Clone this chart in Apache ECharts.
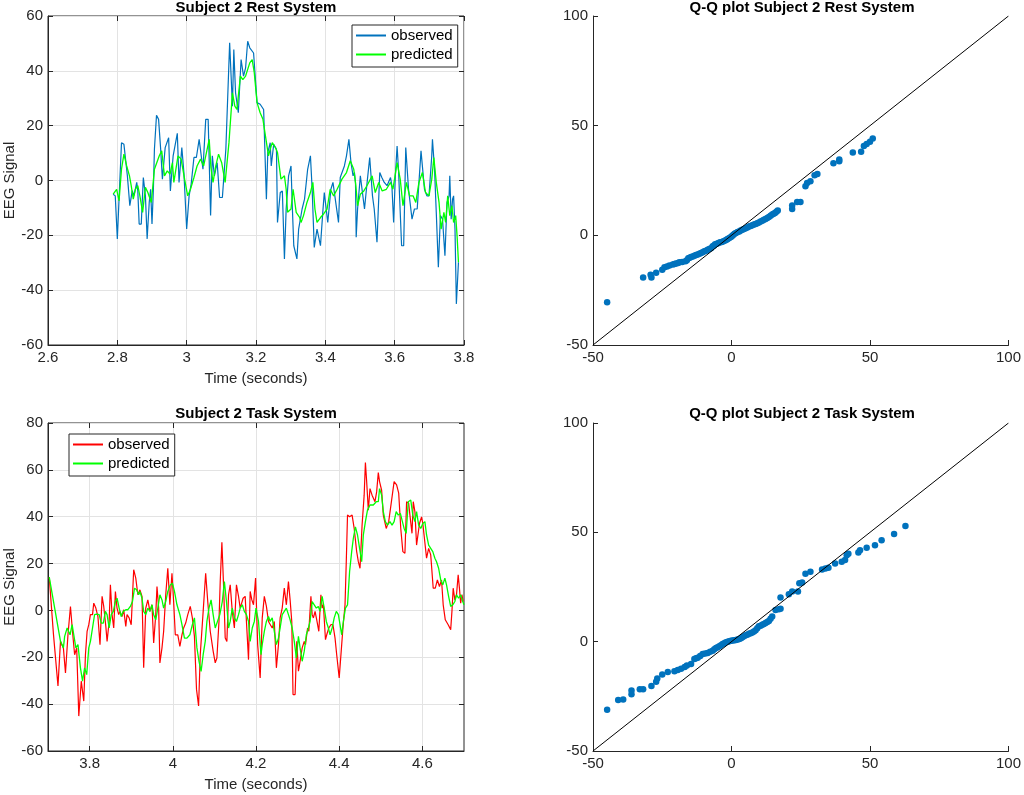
<!DOCTYPE html>
<html>
<head>
<meta charset="utf-8">
<title>Subject 2 EEG</title>
<script src="https://cdn.jsdelivr.net/npm/echarts@6.0.0/dist/echarts.min.js"></script>
<style>
html, body { margin: 0; padding: 0; background: #fff; }
#chart { width: 1024px; height: 795px; }
</style>
</head>
<body>
<div id="chart"></div>
<script>
// DATA (time in seconds, EEG signal)

var restObserved = [[2.788,-5.0],[2.794,-5.6],[2.800,-21.3],[2.812,13.8],[2.819,13.2],[2.829,1.7],[2.836,-9.2],[2.843,-3.7],[2.848,-5.5],[2.856,-0.7],[2.859,-3.7],[2.863,-15.9],[2.869,-15.9],[2.875,1.1],[2.881,-5.6],[2.886,-21.3],[2.892,-8.0],[2.896,-3.2],[2.900,-15.9],[2.904,-3.2],[2.907,11.4],[2.913,23.8],[2.919,22.3],[2.925,11.4],[2.930,0.5],[2.938,12.0],[2.942,11.4],[2.948,15.6],[2.953,-3.8],[2.961,9.0],[2.973,17.2],[2.978,-0.7],[2.986,12.0],[2.992,2.9],[3.000,-17.7],[3.007,-5.6],[3.013,-1.3],[3.021,8.4],[3.028,8.4],[3.036,15.0],[3.047,4.1],[3.055,22.3],[3.062,22.3],[3.069,-12.8],[3.074,9.0],[3.080,1.7],[3.088,6.5],[3.095,-6.2],[3.103,-6.2],[3.113,11.4],[3.124,50.2],[3.132,27.1],[3.136,47.8],[3.141,32.0],[3.149,24.7],[3.157,44.1],[3.164,38.1],[3.170,41.1],[3.176,50.8],[3.182,48.4],[3.187,47.8],[3.193,46.5],[3.203,28.4],[3.212,27.8],[3.216,27.1],[3.222,25.9],[3.230,-6.8],[3.234,10.2],[3.241,13.8],[3.244,5.3],[3.251,13.2],[3.259,11.4],[3.262,-15.3],[3.270,-4.4],[3.276,-3.8],[3.282,-28.6],[3.287,-10.4],[3.294,1.7],[3.301,5.3],[3.305,-10.4],[3.309,-23.8],[3.312,-23.8],[3.318,-28.6],[3.323,-17.7],[3.333,-10.4],[3.340,-6.8],[3.349,4.1],[3.357,9.0],[3.362,-3.2],[3.368,-24.4],[3.376,-17.7],[3.386,-23.8],[3.393,-11.0],[3.397,-4.4],[3.407,-15.3],[3.416,-3.2],[3.422,-0.7],[3.438,-15.3],[3.443,1.1],[3.448,1.1],[3.455,5.3],[3.461,9.0],[3.468,15.0],[3.474,6.5],[3.480,1.7],[3.484,2.9],[3.487,-0.7],[3.489,-20.7],[3.493,-10.4],[3.501,1.7],[3.513,-10.4],[3.520,-1.3],[3.528,8.4],[3.536,-5.6],[3.541,-10.4],[3.549,-22.5],[3.557,2.9],[3.563,1.1],[3.570,-0.7],[3.578,-1.9],[3.588,1.1],[3.592,-1.9],[3.597,-15.3],[3.602,1.7],[3.607,12.6],[3.611,4.1],[3.620,-23.8],[3.626,-23.8],[3.632,12.0],[3.640,-3.2],[3.650,-14.1],[3.657,-10.4],[3.665,-10.4],[3.676,10.8],[3.686,-3.2],[3.693,-5.6],[3.699,-5.6],[3.707,9.0],[3.709,15.0],[3.715,4.1],[3.720,-11.6],[3.726,-31.6],[3.732,-12.8],[3.738,-14.1],[3.745,-27.4],[3.751,-8.0],[3.757,-5.6],[3.759,1.7],[3.763,-14.1],[3.767,-6.8],[3.770,-5.6],[3.774,-17.7],[3.778,-45.0],[3.784,-29.8]];

var restPredicted = [[2.788,-5.0],[2.798,-3.2],[2.805,-7.4],[2.812,4.1],[2.819,9.6],[2.827,5.3],[2.835,1.7],[2.840,-1.9],[2.846,-6.8],[2.852,-3.2],[2.859,-1.9],[2.865,-5.6],[2.873,-11.6],[2.881,-2.5],[2.888,-4.4],[2.898,-8.0],[2.907,4.1],[2.921,9.0],[2.928,10.8],[2.936,1.7],[2.944,3.5],[2.952,2.3],[2.959,6.5],[2.963,-0.7],[2.975,9.0],[2.984,7.8],[2.994,0.5],[3.003,-5.6],[3.011,-3.2],[3.021,1.1],[3.030,5.3],[3.040,7.8],[3.049,5.3],[3.065,15.0],[3.070,4.7],[3.076,-0.7],[3.084,5.3],[3.092,9.6],[3.101,6.5],[3.111,-0.7],[3.122,13.8],[3.132,32.0],[3.139,27.1],[3.145,25.9],[3.155,38.1],[3.162,36.8],[3.170,38.1],[3.182,42.9],[3.189,44.1],[3.195,39.3],[3.203,28.4],[3.212,24.7],[3.220,22.3],[3.230,14.0],[3.236,9.0],[3.241,11.4],[3.247,13.8],[3.256,12.0],[3.262,10.2],[3.272,0.5],[3.282,1.7],[3.287,-3.2],[3.291,-11.6],[3.301,-10.4],[3.307,-3.2],[3.316,-11.6],[3.326,-13.5],[3.330,-15.3],[3.337,-12.8],[3.347,-8.0],[3.357,-4.4],[3.364,-0.7],[3.370,-10.4],[3.376,-15.3],[3.386,-13.5],[3.395,-12.2],[3.405,-10.4],[3.414,-3.2],[3.424,-5.6],[3.434,-3.2],[3.448,0.5],[3.461,2.9],[3.472,7.2],[3.482,4.1],[3.488,-1.9],[3.493,-9.2],[3.501,-5.0],[3.511,-3.8],[3.520,-1.9],[3.535,1.7],[3.544,-4.4],[3.554,-0.7],[3.564,-3.8],[3.576,-3.2],[3.588,-0.7],[3.595,-3.2],[3.607,6.5],[3.616,0.5],[3.624,-9.2],[3.634,-0.7],[3.643,-5.6],[3.653,-5.6],[3.661,-8.0],[3.670,-0.7],[3.680,2.9],[3.689,-4.4],[3.699,-5.6],[3.707,0.5],[3.713,8.4],[3.720,-0.7],[3.728,-8.0],[3.734,-17.7],[3.742,-11.6],[3.747,-15.3],[3.753,-5.6],[3.759,-12.8],[3.765,-9.2],[3.770,-15.3],[3.776,-12.8],[3.780,-20.1],[3.784,-29.8]];

var taskObserved = [[3.703,14.2],[3.713,-9.9],[3.724,-32.2],[3.730,-13.2],[3.737,-16.0],[3.742,-26.7],[3.748,-10.4],[3.754,1.7],[3.759,-9.2],[3.764,-18.9],[3.769,-16.0],[3.774,-45.1],[3.780,-30.2],[3.786,-38.7],[3.790,-18.9],[3.794,-8.9],[3.798,-6.1],[3.802,-1.8],[3.807,-1.8],[3.810,3.1],[3.815,1.0],[3.820,-2.6],[3.825,-14.6],[3.830,6.0],[3.834,1.7],[3.839,-6.8],[3.842,-13.2],[3.847,-4.7],[3.850,10.9],[3.854,-1.8],[3.858,-7.5],[3.862,8.1],[3.866,1.0],[3.870,-1.8],[3.873,-0.4],[3.878,-2.6],[3.882,0.3],[3.887,-6.8],[3.890,-1.8],[3.895,-3.2],[3.900,-6.1],[3.906,17.4],[3.911,13.8],[3.916,6.7],[3.921,8.8],[3.926,6.0],[3.930,-24.5],[3.935,1.0],[3.940,4.5],[3.945,-0.4],[3.950,2.4],[3.954,-13.9],[3.959,-1.8],[3.962,10.2],[3.966,1.0],[3.969,-22.4],[3.974,-16.0],[3.978,-8.9],[3.983,6.7],[3.988,18.0],[3.993,2.4],[3.998,15.9],[4.002,3.8],[4.006,-10.4],[4.012,-10.4],[4.017,-15.3],[4.022,-10.4],[4.026,-7.5],[4.031,-5.4],[4.036,-1.8],[4.042,1.7],[4.047,-3.2],[4.052,-11.1],[4.057,-33.7],[4.062,-40.8],[4.066,-18.9],[4.073,-0.4],[4.079,15.9],[4.084,3.8],[4.090,-8.9],[4.097,-17.4],[4.102,-22.4],[4.106,-20.3],[4.111,-4.7],[4.114,12.3],[4.118,29.1],[4.122,10.9],[4.126,-11.8],[4.130,-13.2],[4.134,6.7],[4.138,10.9],[4.143,-0.4],[4.148,-7.5],[4.153,10.9],[4.158,6.0],[4.162,1.0],[4.169,5.2],[4.174,6.0],[4.177,-4.7],[4.182,-21.0],[4.186,8.1],[4.190,4.5],[4.194,2.4],[4.199,13.8],[4.204,-14.6],[4.210,-28.8],[4.215,-3.2],[4.220,6.0],[4.225,1.7],[4.230,-4.7],[4.234,-4.0],[4.239,-7.5],[4.244,-4.7],[4.249,-24.5],[4.254,-14.6],[4.258,-3.2],[4.263,1.0],[4.268,9.5],[4.273,2.4],[4.278,12.3],[4.282,4.5],[4.286,-4.7],[4.289,-35.9],[4.294,-35.9],[4.298,-13.2],[4.302,-25.9],[4.306,-21.7],[4.311,-16.0],[4.316,-13.2],[4.319,-14.6],[4.324,-7.5],[4.327,-8.9],[4.332,6.0],[4.335,-1.8],[4.338,-3.2],[4.342,-0.4],[4.346,-4.0],[4.351,-8.9],[4.356,6.7],[4.359,1.0],[4.362,2.4],[4.367,-12.5],[4.370,-10.4],[4.375,-7.5],[4.380,-6.1],[4.385,-6.1],[4.390,-11.8],[4.394,-18.9],[4.400,-28.8],[4.406,-14.6],[4.409,-7.5],[4.414,2.4],[4.417,20.8],[4.420,40.7],[4.425,40.0],[4.431,40.7],[4.436,35.0],[4.442,25.1],[4.446,20.8],[4.450,18.0],[4.455,36.4],[4.460,49.2],[4.463,63.1],[4.466,55.0],[4.470,42.8],[4.474,52.0],[4.479,49.2],[4.486,46.4],[4.490,50.6],[4.494,58.8],[4.497,55.0],[4.502,51.3],[4.506,40.7],[4.513,35.0],[4.519,37.9],[4.526,47.1],[4.532,55.0],[4.538,53.6],[4.543,50.1],[4.548,35.0],[4.553,25.1],[4.558,24.4],[4.562,46.4],[4.567,45.7],[4.570,40.7],[4.575,32.9],[4.578,46.4],[4.582,42.2],[4.586,27.9],[4.593,37.1],[4.598,39.9],[4.601,37.1],[4.604,32.2],[4.610,22.3],[4.615,26.5],[4.620,23.7],[4.626,9.5],[4.631,9.5],[4.636,13.0],[4.641,10.2],[4.646,13.0],[4.650,2.4],[4.655,-4.0],[4.662,-6.1],[4.668,-8.2],[4.671,-0.4],[4.674,9.5],[4.678,4.5],[4.682,6.7],[4.686,15.2],[4.689,9.5],[4.692,3.1],[4.695,6.7],[4.698,3.8]];

var taskPredicted = [[3.703,14.2],[3.717,0.0],[3.730,-13.2],[3.737,-16.0],[3.740,-11.1],[3.746,-7.5],[3.753,-10.4],[3.758,-6.1],[3.762,-6.1],[3.767,-16.0],[3.772,-14.6],[3.778,-24.5],[3.783,-30.2],[3.788,-24.5],[3.793,-27.4],[3.798,-16.0],[3.802,-13.2],[3.807,-7.5],[3.812,-1.8],[3.817,-1.6],[3.823,-1.8],[3.828,-5.4],[3.833,-5.4],[3.838,-0.4],[3.842,-1.8],[3.847,-7.5],[3.852,-1.8],[3.857,-0.4],[3.862,3.8],[3.866,5.2],[3.871,1.0],[3.876,-2.6],[3.881,-0.4],[3.887,0.3],[3.892,0.3],[3.898,1.7],[3.903,3.8],[3.908,9.5],[3.913,8.8],[3.918,6.7],[3.921,8.1],[3.926,5.2],[3.930,-0.4],[3.935,-1.8],[3.940,1.0],[3.945,-0.4],[3.950,2.4],[3.954,-1.8],[3.959,-4.0],[3.964,1.0],[3.969,6.7],[3.974,4.5],[3.978,1.0],[3.983,3.8],[3.988,8.1],[3.994,10.9],[3.999,11.6],[4.004,8.1],[4.010,2.4],[4.017,-1.8],[4.022,-6.1],[4.028,-11.8],[4.034,-11.8],[4.041,-10.4],[4.047,-6.1],[4.052,-3.2],[4.058,-16.0],[4.063,-21.7],[4.068,-26.0],[4.073,-18.9],[4.078,-13.2],[4.082,-4.7],[4.087,1.0],[4.092,4.5],[4.097,-1.8],[4.102,-7.5],[4.106,-7.5],[4.113,-1.8],[4.119,3.8],[4.124,12.3],[4.129,3.8],[4.134,-7.5],[4.138,-4.7],[4.143,1.0],[4.148,-3.2],[4.153,-4.7],[4.158,-1.8],[4.162,1.0],[4.167,2.4],[4.172,-0.4],[4.177,-1.8],[4.182,-4.7],[4.186,-13.2],[4.191,-7.5],[4.196,-4.7],[4.200,1.0],[4.206,-4.7],[4.212,-18.9],[4.215,-14.6],[4.220,-8.9],[4.225,-4.7],[4.230,-2.6],[4.234,-4.7],[4.239,-3.2],[4.244,-8.9],[4.249,-14.6],[4.254,-11.8],[4.258,-7.5],[4.263,-1.8],[4.268,-0.4],[4.273,1.0],[4.278,-1.8],[4.282,-4.0],[4.287,-7.5],[4.292,-13.2],[4.297,-20.3],[4.302,-11.1],[4.306,-16.0],[4.311,-21.7],[4.316,-17.4],[4.321,-10.4],[4.326,-7.5],[4.330,-4.7],[4.335,3.8],[4.340,2.4],[4.345,1.0],[4.350,1.7],[4.354,-0.4],[4.359,6.0],[4.364,1.0],[4.369,-4.7],[4.374,-7.5],[4.378,-10.4],[4.383,-7.5],[4.388,-3.2],[4.393,-0.4],[4.398,-1.8],[4.402,-6.1],[4.406,-10.4],[4.410,-4.7],[4.415,1.0],[4.420,2.4],[4.425,16.6],[4.430,25.1],[4.434,30.8],[4.439,35.7],[4.444,32.2],[4.449,26.5],[4.454,20.8],[4.458,32.2],[4.463,37.9],[4.468,42.8],[4.474,45.0],[4.482,45.0],[4.489,46.4],[4.494,46.4],[4.497,52.0],[4.502,49.2],[4.506,42.2],[4.511,37.9],[4.516,36.4],[4.522,37.9],[4.527,36.4],[4.532,37.9],[4.537,42.2],[4.542,40.7],[4.547,41.4],[4.551,40.7],[4.556,35.0],[4.561,32.9],[4.566,46.4],[4.572,47.1],[4.577,40.7],[4.582,37.9],[4.586,42.2],[4.591,36.4],[4.596,35.0],[4.601,37.1],[4.606,37.9],[4.610,32.2],[4.615,27.9],[4.620,26.5],[4.625,25.1],[4.630,22.3],[4.634,20.8],[4.639,18.0],[4.644,13.0],[4.649,10.9],[4.654,13.8],[4.658,10.9],[4.663,6.0],[4.668,1.7],[4.673,2.4],[4.678,3.8],[4.682,6.7],[4.687,5.2],[4.692,6.7],[4.697,3.8],[4.700,2.4]];

// Q-Q pairs: [observed quantile, predicted quantile]
var qqRest = [[-44.9,-30.5],[-31.9,-19.2],[-29.2,-18.0],[-28.9,-19.2],[-27.2,-17.1],[-25.0,-15.7],[-24.2,-14.6],[-23.3,-14.2],[-22.4,-13.7],[-21.2,-13.3],[-20.6,-13.1],[-20.0,-12.8],[-19.3,-12.6],[-18.8,-12.3],[-17.8,-12.2],[-16.6,-11.8],[-16.1,-11.4],[-15.6,-10.4],[-15.1,-10.2],[-14.6,-9.9],[-14.0,-9.6],[-13.4,-9.3],[-12.8,-9.0],[-12.2,-8.7],[-11.6,-8.4],[-11.0,-8.1],[-10.4,-7.7],[-9.8,-7.3],[-9.2,-7.0],[-8.6,-6.6],[-8.0,-6.2],[-7.4,-5.9],[-6.8,-5.0],[-6.3,-4.6],[-5.9,-4.1],[-5.3,-3.8],[-4.7,-3.5],[-4.1,-3.2],[-3.5,-3.0],[-2.9,-2.7],[-2.3,-2.4],[-1.8,-2.0],[-1.4,-1.7],[-0.8,-1.2],[-0.2,-0.8],[0.2,-0.3],[0.6,0.2],[1.1,0.7],[1.6,1.1],[2.2,1.5],[2.8,1.8],[3.3,2.2],[3.9,2.6],[4.5,2.9],[5.1,3.2],[5.7,3.6],[6.3,4.0],[6.9,4.3],[7.5,4.6],[8.1,4.9],[8.7,5.2],[9.3,5.5],[9.9,5.9],[10.5,6.3],[11.1,6.7],[11.7,7.1],[12.3,7.5],[12.9,7.9],[13.5,8.4],[14.1,8.9],[14.7,9.5],[15.2,9.8],[15.7,10.2],[16.2,10.7],[16.7,11.3],[21.9,12.0],[21.9,13.6],[23.7,15.2],[24.9,15.2],[26.7,22.4],[27.3,23.9],[28.5,24.7],[30.0,27.4],[31.0,28.0],[36.8,32.9],[38.9,33.8],[38.9,34.6],[43.8,37.8],[46.8,38.1],[47.8,40.7],[48.8,41.6],[50.0,42.7],[51.0,44.2]];

var qqTask = [[-44.9,-31.1],[-40.9,-26.7],[-39.1,-26.4],[-36.1,-22.3],[-36.1,-24.1],[-33.1,-21.8],[-31.9,-21.8],[-28.9,-20.3],[-27.2,-18.3],[-26.8,-16.8],[-25.0,-15.0],[-23.0,-13.9],[-20.6,-13.5],[-19.4,-13.0],[-18.2,-12.4],[-16.9,-11.6],[-16.1,-10.9],[-14.6,-10.2],[-13.4,-7.9],[-12.8,-7.6],[-12.2,-7.4],[-11.3,-6.5],[-10.4,-5.6],[-9.5,-5.4],[-8.6,-5.2],[-7.7,-4.6],[-6.8,-4.1],[-6.2,-3.5],[-5.6,-2.9],[-5.0,-2.5],[-4.4,-2.1],[-3.8,-1.6],[-3.2,-1.1],[-2.6,-0.7],[-2.0,-0.3],[-1.4,0.0],[-0.8,0.2],[-0.2,0.4],[0.4,0.5],[1.0,0.6],[1.6,0.8],[2.2,1.0],[2.8,1.2],[3.4,1.6],[3.9,2.0],[4.5,2.5],[5.1,2.9],[5.7,3.2],[6.3,3.6],[6.9,3.9],[7.5,4.2],[8.1,4.7],[8.7,5.2],[9.3,6.1],[9.9,7.0],[10.5,7.3],[11.1,7.7],[11.7,8.1],[12.3,8.5],[12.9,9.0],[13.5,9.5],[14.1,10.5],[14.7,11.5],[15.9,14.5],[17.1,14.8],[17.7,15.0],[17.7,20.2],[20.7,21.7],[21.9,22.9],[24.0,22.9],[24.5,26.7],[25.5,27.1],[26.7,31.1],[28.5,32.0],[32.7,33.0],[33.9,33.5],[35.0,33.8],[37.4,35.8],[39.8,36.5],[41.0,37.3],[41.6,39.5],[42.2,40.2],[45.8,40.8],[46.4,41.8],[48.8,43.0],[51.8,44.1],[54.2,46.4],[58.7,49.2],[62.8,52.9]];

// reference line y = x across the Q-Q axes
var qqLine = [[-50,-50],[100,100]];

var taskTicks = [3.8, 4, 4.2, 4.4, 4.6];

// STYLE
var FONT = '"Liberation Sans", Arial, Helvetica, sans-serif';
var AXIS = '#262626';
var GRIDLINE = '#e3e3e3';

function timeAxis(grid, min, max, opts) {
	var ax = {
		type: 'value', gridIndex: grid, min: min, max: max,
		axisLine: { show: true, onZero: false, lineStyle: { color: AXIS, width: 1 } },
		axisTick: { show: true, inside: true, length: 5, lineStyle: { color: AXIS } },
		axisLabel: { show: true, color: AXIS, fontSize: 15, fontFamily: FONT, margin: 5 },
		splitLine: { show: true, lineStyle: { color: GRIDLINE, width: 1 } }
	};
	for (var k in opts) { ax[k] = opts[k]; }
	return ax;
}

// copy of an axis on the opposite side: only inward ticks
function mirrorAxis(base, position) {
	var ax = JSON.parse(JSON.stringify(base));
	ax.position = position;
	ax.name = '';
	ax.axisLabel.show = false;
	ax.axisLine.show = false;
	ax.splitLine = { show: false };
	return ax;
}

function qqAxis(grid) {
	return {
		type: 'value', gridIndex: grid, min: -50, max: 100, interval: 50,
		axisLine: { show: true, onZero: false, lineStyle: { color: AXIS, width: 1 } },
		axisTick: { show: true, inside: true, length: 5, lineStyle: { color: AXIS } },
		axisLabel: { color: AXIS, fontSize: 15, fontFamily: FONT, margin: 5 },
		splitLine: { show: false }
	};
}

var nameStyle = { color: AXIS, fontSize: 15, fontFamily: FONT };

var xRest = timeAxis(0, 2.6, 3.8, { interval: 0.2, name: 'Time (seconds)', nameLocation: 'middle', nameGap: 26, nameTextStyle: nameStyle });
var yRest = timeAxis(0, -60, 60, { interval: 20, name: 'EEG Signal', nameLocation: 'middle', nameGap: 30, nameTextStyle: nameStyle });
var xTask = timeAxis(2, 3.7, 4.7, { name: 'Time (seconds)', nameLocation: 'middle', nameGap: 26, nameTextStyle: nameStyle });
xTask.axisLabel.customValues = taskTicks;
xTask.axisTick.customValues = taskTicks;
var yTask = timeAxis(2, -60, 80, { interval: 20, name: 'EEG Signal', nameLocation: 'middle', nameGap: 30, nameTextStyle: nameStyle });

function lineSeries(name, data, color, xi, yi, width) {
	return {
		name: name, type: 'line', data: data, xAxisIndex: xi, yAxisIndex: yi,
		symbol: 'none', showSymbol: false, animation: false,
		lineStyle: { color: color, width: width }, itemStyle: { color: color }
	};
}

function legendBox(left, top, names) {
	return {
		left: left, top: top, orient: 'vertical', data: names,
		selectedMode: false,
		itemWidth: 30, itemHeight: 14, itemGap: 4,
		padding: [3, 5, 5, 3],
		// line only, no marker in the legend key
		itemStyle: { opacity: 0, borderWidth: 0 },
		backgroundColor: '#fff', borderColor: AXIS, borderWidth: 1, borderRadius: 0,
		textStyle: { color: '#000', fontSize: 15, fontFamily: FONT },
		formatter: function (n) { return n.split(' ')[1]; }
	};
}

function titleText(x, y, text) {
	return {
		type: 'text', x: x, y: y, z: 100,
		style: { text: text, align: 'center', verticalAlign: 'middle', fill: '#000', font: 'bold 15px ' + FONT }
	};
}

var option = {
	animation: false,
	backgroundColor: '#fff',
	grid: [
		{ left: 48, top: 16, width: 416, height: 329, show: true, borderColor: AXIS, borderWidth: 1, backgroundColor: 'transparent' },
		{ left: 593, top: 16, width: 418, height: 329, show: false },
		{ left: 48, top: 423, width: 416, height: 328, show: true, borderColor: AXIS, borderWidth: 1, backgroundColor: 'transparent' },
		{ left: 593, top: 423, width: 418, height: 328, show: false }
	],
	xAxis: [xRest, mirrorAxis(xRest, 'top'), qqAxis(1), xTask, mirrorAxis(xTask, 'top'), qqAxis(3)],
	yAxis: [yRest, mirrorAxis(yRest, 'right'), qqAxis(1), yTask, mirrorAxis(yTask, 'right'), qqAxis(3)],
	legend: [
		legendBox(352, 25, ['Rest observed', 'Rest predicted']),
		legendBox(69, 434, ['Task observed', 'Task predicted'])
	],
	graphic: [
		titleText(256, 8, 'Subject 2 Rest System'),
		titleText(802, 8, 'Q-Q plot Subject 2 Rest System'),
		titleText(256, 414, 'Subject 2 Task System'),
		titleText(802, 414, 'Q-Q plot Subject 2 Task System')
	],
	series: [
		lineSeries('Rest observed', restObserved, '#0072BD', 0, 0, 1.2),
		lineSeries('Rest predicted', restPredicted, '#00FF00', 0, 0, 1.3),
		lineSeries('Task observed', taskObserved, '#FF0000', 3, 3, 1.2),
		lineSeries('Task predicted', taskPredicted, '#00FF00', 3, 3, 1.3),
		{ type: 'line', data: qqLine, xAxisIndex: 2, yAxisIndex: 2, symbol: 'none', animation: false, lineStyle: { color: '#000', width: 1 } },
		{ type: 'scatter', data: qqRest, xAxisIndex: 2, yAxisIndex: 2, symbolSize: 6.5, animation: false, itemStyle: { color: '#0072BD', opacity: 1 } },
		{ type: 'line', data: qqLine, xAxisIndex: 5, yAxisIndex: 5, symbol: 'none', animation: false, lineStyle: { color: '#000', width: 1 } },
		{ type: 'scatter', data: qqTask, xAxisIndex: 5, yAxisIndex: 5, symbolSize: 6.5, animation: false, itemStyle: { color: '#0072BD', opacity: 1 } }
	]
};

var myChart = echarts.init(document.getElementById('chart'));
myChart.setOption(option);
</script>
</body>
</html>
